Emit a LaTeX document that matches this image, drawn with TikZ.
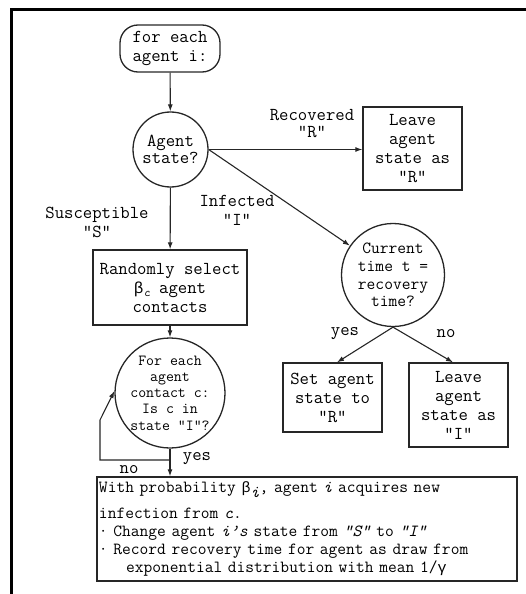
\documentclass[tikz,border=0pt]{standalone}
\usepackage{fontspec}
\newfontfamily\grk{Liberation Mono}
\usetikzlibrary{arrows.meta,calc}
\newcommand{\fsz}[2]{\fontsize{#1}{#2}\selectfont\ttfamily}
\newcommand{\lowsub}[2]{\raisebox{#1}{\fontsize{12bp}{12bp}\selectfont\ttfamily\textit{#2}}}
\begin{document}
\begin{tikzpicture}[x=1bp,y=-1bp,
  every node/.style={inner sep=0pt, align=center, font=\fsz{18.2bp}{19bp}},
  box/.style={draw=black!85, line width=1.3bp, rectangle},
  circ/.style={draw=black!85, line width=1.3bp, circle},
  arr/.style={draw=black!85, line width=1.1bp, -{Latex[length=7bp,width=5bp]}},
  curfont/.style={font=\fsz{17bp}{17.7bp}},
  eachfont/.style={font=\fsz{15.4bp}{16.3bp}}]
\useasboundingbox (0,0) rectangle (526,594);
\draw[line width=3bp] (11.5,594) -- (11.5,9.5) -- (526,9.5);

\node[box, rounded corners=18bp, minimum width=100bp, minimum height=47bp] (start) at (170,48.5) {for each\\agent i:};
\node[circ, minimum size=75bp, font=\fsz{18.2bp}{17bp}] (state) at (170.5,149.5) {Agent\\state?};
\node[box, minimum width=99bp, minimum height=83bp] (leaveR) at (412.5,148.5) {Leave\\agent\\state as\\"R"};
\node[box, minimum width=154bp, minimum height=75bp] (select) at (170,287.5) {Randomly select\\{\grk\fontsize{16bp}{16bp}\selectfont β}\lowsub{-3bp}{c} agent\\contacts};
\node[circ, minimum size=103bp, label={[curfont]center:{Current\\time t =\\recovery\\time?}}] (cur) at (393,275) {};
\node[circ, minimum size=110bp, label={[eachfont]center:{For each\\agent\\contact c:\\Is c in\\state “I”?}}] (each) at (170,393) {};
\node[box, minimum width=99bp, minimum height=69bp] (setR) at (332.5,397.5) {Set agent\\state to\\"R"};
\node[box, minimum width=99bp, minimum height=84bp] (leaveI) at (458.5,405) {Leave\\agent\\state as\\"I"};
\node[box, minimum width=420bp, minimum height=104bp, align=left, text width=416bp, inner xsep=2bp, font=\fsz{17bp}{18bp}] (big) at (307,529)
 {With probability {\grk\fontsize{15bp}{15bp}\selectfont β}\raisebox{-5bp}{\textit{i}}, agent \textit{i} acquires new\\[8bp]
  infection from \textit{c}.\\
  · Change agent \textit{i’s} state from \textit{“S”} to \textit{“I”}\\
  · Record recovery time for agent as draw from\\
  \hspace*{27bp}exponential distribution with mean 1/{\grk\fontsize{15bp}{15bp}\selectfont γ}};

\node[font=\fsz{18.2bp}{17bp}] (lR) at (312,124) {Recovered\\"R"};
\node (lI) at (237,210) {Infected\\"I"};
\node (lS) at (97,222) {Susceptible\\"S"};
\node (ly1) at (345,334) {yes};
\node (ln1) at (446,334) {no};
\node (ly2) at (197,459) {yes};
\node (ln2) at (129,470) {no};

\draw[arr] (start) -- (state);
\draw[arr] (state.east) -- (state.east -| leaveR.west);
\draw[arr] (state.east) -- (cur);
\draw[arr] (state) -- (select);
\draw[arr] (select) -- (each);
\draw[arr] (each.south) -- (each.south |- big.north);
\draw[arr] (cur.south) -- ($(setR.north)+(4.5,0)$);
\draw[arr] (cur.south) -- ($(leaveI.north)+(-5.5,0)$);
\coordinate (lp) at (170,460);
\draw[arr] (lp) -- (100,460) -- (100,420) -- (each.178);
\end{tikzpicture}
\end{document}
